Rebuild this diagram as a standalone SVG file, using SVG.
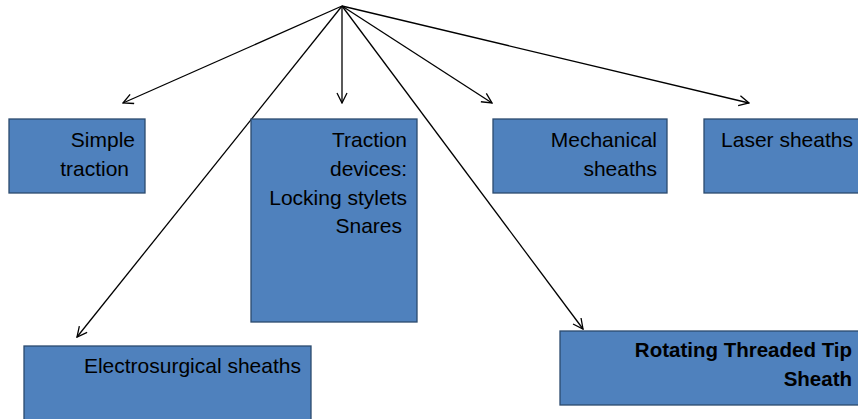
<svg xmlns="http://www.w3.org/2000/svg" width="858" height="419" viewBox="0 0 858 419">
<style>
.box{fill:#4F81BD;stroke:#2C4A6E;stroke-width:1.3}
.t{font-family:"Liberation Sans",Arial,sans-serif;font-size:21px;fill:#000;text-anchor:end}
.b{font-weight:bold;font-size:20.5px}
.c{stroke:#000;stroke-width:1.3;fill:none;marker-end:url(#arr)}
</style>
<defs>
<marker id="arr" viewBox="0 0 12 12" refX="11" refY="6" markerWidth="12" markerHeight="12" markerUnits="userSpaceOnUse" orient="auto">
<path d="M1,1 L11,6 L1,11" fill="none" stroke="#000" stroke-width="1.3"/>
</marker>
</defs>
<rect width="858" height="419" fill="#fff"/>
<g id="connectors">
<line class="c" x1="342" y1="6" x2="123" y2="103"/>
<line class="c" x1="342" y1="6" x2="342" y2="103"/>
<line class="c" x1="342" y1="6" x2="492" y2="103"/>
<line class="c" x1="342" y1="6" x2="749" y2="103"/>
<line class="c" x1="342" y1="6" x2="77" y2="337"/>
<line class="c" x1="342" y1="6" x2="583" y2="329"/>
</g>
<g id="simple-traction">
<rect class="box" x="9" y="119" width="136" height="74"/>
<text class="t" x="135" y="147">Simple</text>
<text class="t" x="129" y="176">traction</text>
</g>
<g id="traction-devices">
<rect class="box" x="251" y="119" width="166" height="203"/>
<text class="t" x="407" y="147">Traction</text>
<text class="t" x="407" y="176">devices:</text>
<text class="t" x="407" y="205">Locking stylets</text>
<text class="t" x="402" y="233">Snares</text>
</g>
<g id="mechanical-sheaths">
<rect class="box" x="493" y="119" width="174" height="74"/>
<text class="t" x="657" y="147">Mechanical</text>
<text class="t" x="657" y="176">sheaths</text>
</g>
<g id="laser-sheaths">
<rect class="box" x="704" y="119" width="160" height="74"/>
<text class="t" x="853" y="147">Laser sheaths</text>
</g>
<g id="electrosurgical-sheaths">
<rect class="box" x="24" y="346" width="287" height="80"/>
<text class="t" x="301" y="373">Electrosurgical sheaths</text>
</g>
<g id="rotating-threaded-tip-sheath">
<rect class="box" x="560" y="331" width="304" height="74"/>
<text class="t b" x="852" y="357">Rotating Threaded Tip</text>
<text class="t b" x="852" y="386">Sheath</text>
</g>
</svg>
